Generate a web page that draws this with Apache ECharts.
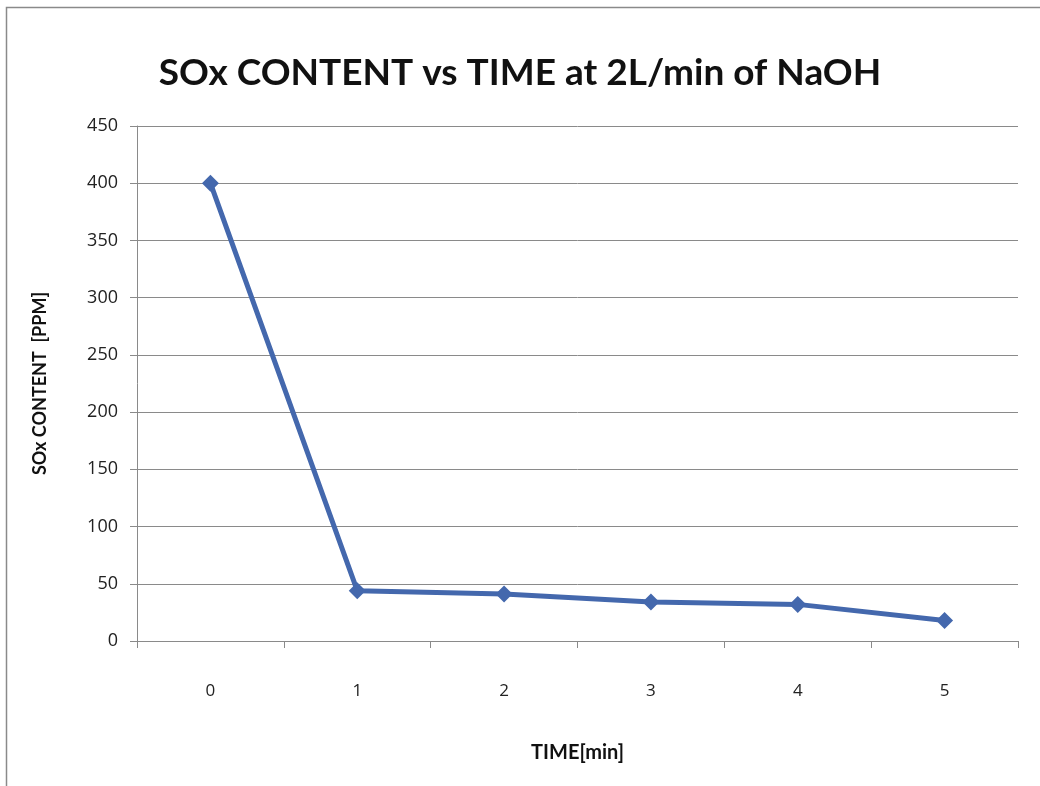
<!DOCTYPE html>
<html>
<head>
<meta charset="utf-8">
<script src="https://cdn.jsdelivr.net/npm/echarts@6/dist/echarts.min.js"></script>
<style>
  html, body { margin: 0; padding: 0; background: #fff; }
  #chart { width: 1040px; height: 786px; }
</style>
</head>
<body>
<div id="chart"></div>
<script>
// time in minutes (categories)
const timeMin = ['0', '1', '2', '3', '4', '5'];
// SOx content in PPM
const soxPpm = [400, 44, 41, 34, 32, 18];
const yTicks = { min: 0, max: 450, interval: 50 };

const chart = echarts.init(document.getElementById('chart'));
const labelFont = 'Lato, "Open Sans", sans-serif';
const tickFont = '"Open Sans", sans-serif';

chart.setOption({
  backgroundColor: '#fff',
  animation: false,
  graphic: [{
    type: 'rect',
    shape: { x: 6.5, y: 7.5, width: 1060, height: 800 },
    style: { fill: 'none', stroke: '#8a8a8a', lineWidth: 1.5 },
    silent: true
  }],
  title: {
    text: 'SOx CONTENT vs TIME at 2L/min of NaOH',
    left: 'center',
    top: 50,
    textStyle: { fontFamily: labelFont, fontSize: 37, fontWeight: 'bold', color: '#111' }
  },
  grid: { left: 137, right: 22, top: 126, bottom: 145 },
  xAxis: {
    type: 'category',
    data: timeMin,
    boundaryGap: true,
    name: 'TIME[min]',
    nameLocation: 'middle',
    nameGap: 102,
    nameTextStyle: { fontFamily: labelFont, fontSize: 20, fontWeight: 'bold', color: '#111' },
    axisLine: { lineStyle: { color: '#8a8a8a', width: 1 } },
    axisTick: { show: true, length: 7, inside: false, lineStyle: { color: '#8a8a8a' } },
    axisLabel: { margin: 42, fontFamily: tickFont, fontSize: 17, color: '#222' },
    splitLine: { show: false }
  },
  yAxis: {
    type: 'value',
    min: yTicks.min,
    max: yTicks.max,
    interval: yTicks.interval,
    name: 'SOx CONTENT  [PPM]',
    nameLocation: 'middle',
    nameGap: 88,
    nameRotate: 90,
    nameTextStyle: { fontFamily: labelFont, fontSize: 18, fontWeight: 'bold', color: '#111' },
    axisLine: { show: true, lineStyle: { color: '#8a8a8a', width: 1 } },
    axisTick: { show: true, length: 7, lineStyle: { color: '#8a8a8a' } },
    axisLabel: { margin: 19, fontFamily: tickFont, fontSize: 18, color: '#222' },
    splitLine: { show: true, lineStyle: { color: '#8a8a8a', width: 1 } }
  },
  series: [{
    type: 'line',
    data: soxPpm,
    symbol: 'diamond',
    symbolSize: 17,
    lineStyle: { color: '#4468ad', width: 5 },
    itemStyle: { color: '#4468ad' }
  }]
});
</script>
</body>
</html>
